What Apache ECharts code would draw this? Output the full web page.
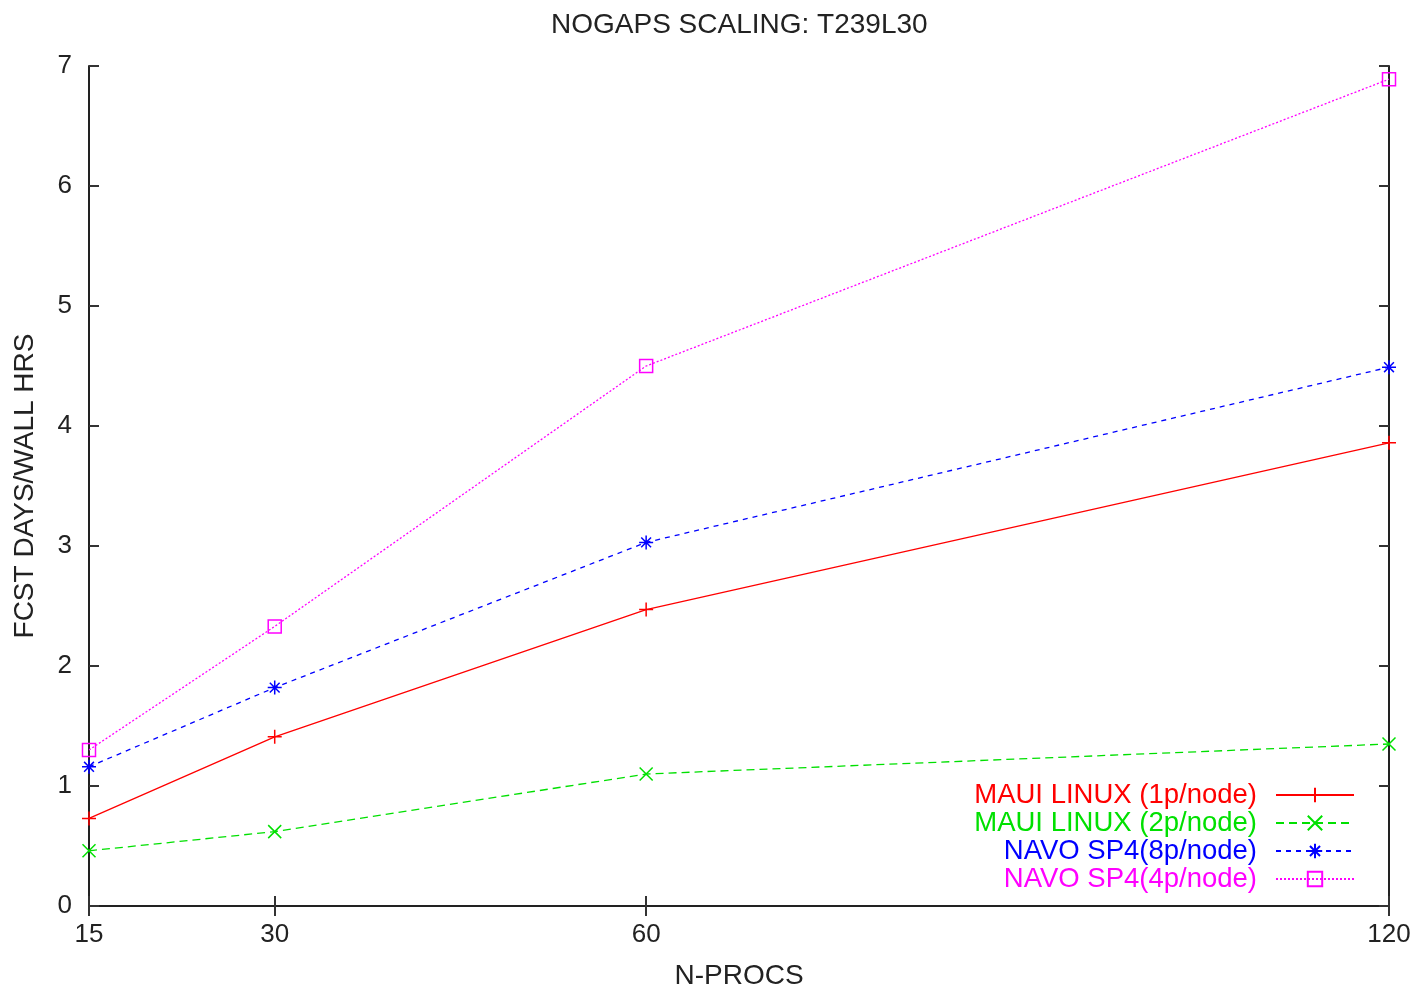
<!DOCTYPE html>
<html>
<head>
<meta charset="utf-8">
<script src="https://cdn.jsdelivr.net/npm/echarts@6/dist/echarts.min.js"></script>
<style>
  html, body { margin: 0; padding: 0; background: #fff; }
  #main { width: 1416px; height: 989px; }
</style>
</head>
<body>
<div id="main"></div>
<script>
var procs = [15, 30, 60, 120];
var maui1p = [0.73, 1.41, 2.47, 3.86];
var maui2p = [0.46, 0.62, 1.10, 1.35];
var navo8p = [1.16, 1.82, 3.03, 4.49];
var navo4p = [1.30, 2.33, 4.50, 6.89];
var yTicks = [0, 1, 2, 3, 4, 5, 6, 7];

var names = ['MAUI LINUX (1p/node)', 'MAUI LINUX (2p/node)', 'NAVO SP4(8p/node)', 'NAVO SP4(4p/node)'];
var colors = ['#ff0000', '#00e000', '#0000ff', '#ff00ff'];

function pairs(vals) {
    return procs.map(function (p, i) { return [p, vals[i]]; });
}

var plusPath = 'path://M5,0L5,10M0,5L10,5';
var crossPath = 'path://M0,0L10,10M10,0L0,10';
var starPath = 'path://M5,0L5,10M0,5L10,5M1.5,1.5L8.5,8.5M8.5,1.5L1.5,8.5';

function mkSeries(idx, vals, symbol, lineType, size) {
    return {
        name: names[idx],
        type: 'line',
        data: pairs(vals),
        symbol: symbol,
        symbolSize: size,
        showAllSymbol: true,
        lineStyle: { color: colors[idx], width: 1.3, type: lineType },
        itemStyle: { color: 'transparent', borderColor: colors[idx], borderWidth: 1.5 },
        emphasis: { disabled: true }
    };
}

var axisLine = { show: true, lineStyle: { color: '#222', width: 2 } };
var tickIn = { show: true, inside: true, length: 10, lineStyle: { color: '#333', width: 2 } };
var font = 'Liberation Sans';

var myChart = echarts.init(document.getElementById('main'));
var option = {
    backgroundColor: '#fff',
    animation: false,
    title: {
        text: 'NOGAPS SCALING: T239L30',
        left: 551,
        top: 11,
        padding: 0,
        textStyle: { fontFamily: font, fontSize: 28, fontWeight: 'normal', color: '#222' }
    },
    grid: { left: 89, right: 27, top: 66, bottom: 83, outerBoundsMode: 'none' },
    legend: {
        orient: 'vertical',
        right: 61,
        top: 781,
        padding: 0,
        align: 'right',
        itemWidth: 78,
        itemHeight: 18,
        itemGap: 0,
        selectedMode: false,
        textStyle: { fontFamily: font, fontSize: 27.5, lineHeight: 28, padding: [0, 14, 0, 0] },
        data: names.map(function (n, i) {
            return { name: n, textStyle: { color: colors[i] } };
        })
    },
    xAxis: [{
        type: 'value',
        min: 15,
        max: 120,
        interval: 15,
        name: 'N-PROCS',
        nameLocation: 'middle',
        nameGap: 56,
        nameTextStyle: { fontFamily: font, fontSize: 28, color: '#222' },
        axisLine: axisLine,
        axisTick: Object.assign({ customValues: procs }, tickIn),
        axisLabel: { customValues: procs, margin: 16, fontFamily: font, fontSize: 26, color: '#222' },
        splitLine: { show: false }
    }, {
        type: 'value',
        position: 'top',
        min: 15,
        max: 120,
        interval: 15,
        axisLine: axisLine,
        axisTick: Object.assign({ customValues: procs }, tickIn),
        axisLabel: { show: false },
        splitLine: { show: false }
    }],
    yAxis: [{
        type: 'value',
        min: 0,
        max: 7,
        interval: 1,
        name: 'FCST DAYS/WALL HRS',
        nameLocation: 'middle',
        nameGap: 50,
        nameTextStyle: { fontFamily: font, fontSize: 28, color: '#222' },
        axisLine: axisLine,
        axisTick: Object.assign({ customValues: yTicks }, tickIn),
        axisLabel: { customValues: yTicks, margin: 17, fontFamily: font, fontSize: 26, color: '#222' },
        splitLine: { show: false }
    }, {
        type: 'value',
        position: 'right',
        min: 0,
        max: 7,
        interval: 1,
        axisLine: axisLine,
        axisTick: tickIn,
        axisLabel: { show: false },
        splitLine: { show: false }
    }],
    series: [
        mkSeries(0, maui1p, plusPath, 'solid', 14),
        mkSeries(1, maui2p, crossPath, [8, 5], 13),
        mkSeries(2, navo8p, starPath, [5, 5], 14),
        mkSeries(3, navo4p, 'rect', [2, 2], 13)
    ]
};
myChart.setOption(option);
</script>
</body>
</html>
